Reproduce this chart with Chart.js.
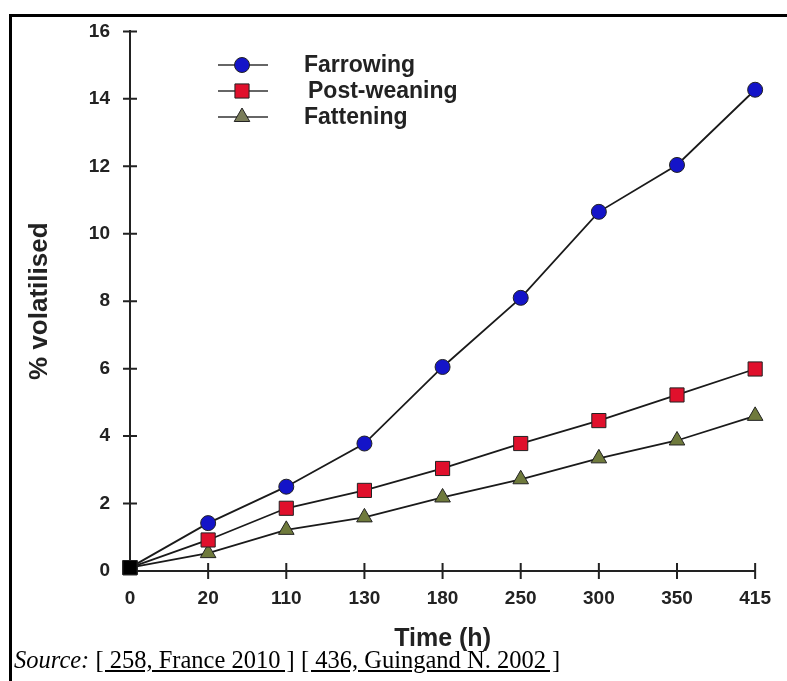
<!DOCTYPE html>
<html>
<head>
<meta charset="utf-8">
<script src="https://cdn.jsdelivr.net/npm/chart.js@4.4.1/dist/chart.umd.min.js"></script>
<style>
	body { margin: 0; background: #fff; width: 787px; height: 681px; overflow: hidden; position: relative; }
	#frame { position: absolute; left: 9px; top: 14px; width: 778px; height: 667px; border-top: 3px solid #000; border-left: 3px solid #000; }
	#myChart { position: absolute; left: 0; top: 0; }
	#source { position: absolute; left: 14px; top: 646px; font: 24.5px "Liberation Serif", "Times New Roman", serif; color: #000; white-space: nowrap; }
	#source .ref { text-decoration: underline; }
</style>
</head>
<body>
<div id="frame"></div>
<canvas id="myChart" width="787" height="681"></canvas>
<div id="source"><i>Source:</i> <span class="ref">[ 258, France 2010 ]</span> <span class="ref">[ 436, Guingand N. 2002 ]</span></div>
<script>
const timeLabels = ['0', '20', '110', '130', '180', '250', '300', '350', '415'];
const farrowing = [0.1, 1.42, 2.5, 3.78, 6.05, 8.1, 10.65, 12.04, 14.27];
const postWeaning = [0.1, 0.92, 1.86, 2.39, 3.04, 3.78, 4.46, 5.22, 5.99];
const fattening = [0.1, 0.53, 1.22, 1.59, 2.18, 2.72, 3.34, 3.87, 4.6];
const seriesNames = ['Farrowing', 'Post-weaning', 'Fattening'];

Chart.defaults.font.family = '"Liberation Sans", Arial, sans-serif';
Chart.defaults.color = '#222';

function makeSeries(label, data, style, fill, radius) {
	return {
		label: label,
		data: data,
		borderColor: '#1a1a1a',
		borderWidth: 1.8,
		pointStyle: c => (c.dataIndex === 0 ? 'rect' : style),
		pointRadius: c => (c.dataIndex === 0 ? 10 : radius),
		pointBackgroundColor: c => (c.dataIndex === 0 ? '#000' : fill),
		pointBorderColor: '#222',
		pointBorderWidth: 1,
		clip: false,
	};
}

// tick marks that cross the axis lines
const crossTicks = {
	id: 'crossTicks',
	beforeDatasetsDraw(chart) {
		const ctx = chart.ctx;
		const x = chart.scales.x;
		const y = chart.scales.y;
		ctx.save();
		ctx.strokeStyle = '#222';
		ctx.lineWidth = 2;
		ctx.beginPath();
		y.ticks.forEach((t, i) => {
			const py = y.getPixelForTick(i);
			ctx.moveTo(x.left - 7, py);
			ctx.lineTo(x.left + 7, py);
		});
		x.ticks.forEach((t, i) => {
			if (i === 0) return;
			const px = x.getPixelForTick(i);
			ctx.moveTo(px, y.bottom - 8);
			ctx.lineTo(px, y.bottom + 8);
		});
		ctx.stroke();
		ctx.restore();
	},
};

// legend with a line through each marker
const lineLegend = {
	id: 'lineLegend',
	afterDatasetsDraw(chart) {
		const ctx = chart.ctx;
		ctx.save();
		chart.data.datasets.forEach((ds, i) => {
			const rowY = 65 + i * 26;
			ctx.strokeStyle = '#333';
			ctx.lineWidth = 1.5;
			ctx.beginPath();
			ctx.moveTo(218, rowY);
			ctx.lineTo(268, rowY);
			ctx.stroke();
			ctx.fillStyle = ds.legendFill;
			ctx.strokeStyle = '#222';
			ctx.lineWidth = 1;
			Chart.helpers.drawPoint(ctx, { pointStyle: ds.legendStyle, radius: ds.legendRadius, rotation: 0, borderWidth: 1 }, 242, rowY);
			ctx.fillStyle = '#222';
			ctx.font = 'bold 23px "Liberation Sans", Arial, sans-serif';
			ctx.textBaseline = 'alphabetic';
			ctx.textAlign = 'left';
			ctx.fillText(ds.label, i === 1 ? 308 : 304, rowY + 7);
		});
		ctx.restore();
	},
};

const datasets = [
	makeSeries(seriesNames[0], farrowing, 'circle', '#1414c8', 7.5),
	makeSeries(seriesNames[1], postWeaning, 'rect', '#e0102c', 10),
	makeSeries(seriesNames[2], fattening, 'triangle', '#6f7a3c', 9),
];
datasets[0].legendStyle = 'circle'; datasets[0].legendFill = '#1414c8'; datasets[0].legendRadius = 7.5;
datasets[1].legendStyle = 'rect'; datasets[1].legendFill = '#e0102c'; datasets[1].legendRadius = 10;
datasets[2].legendStyle = 'triangle'; datasets[2].legendFill = '#7a7d5a'; datasets[2].legendRadius = 9;

const chart = new Chart(document.getElementById('myChart'), {
	type: 'line',
	data: { labels: timeLabels, datasets: datasets },
	options: {
		responsive: false,
		animation: false,
		layout: { padding: { left: 0, right: 27, top: 29, bottom: 0 } },
		plugins: { legend: { display: false }, tooltip: { enabled: false } },
		elements: { line: { tension: 0 } },
		scales: {
			x: {
				offset: false,
				grid: { display: false, drawTicks: false },
				border: { display: true, color: '#222', width: 2 },
				ticks: { padding: 16, font: { size: 19, weight: 'bold' }, color: '#222', maxRotation: 0 },
				title: { display: true, text: 'Time (h)', font: { size: 25, weight: 'bold' }, color: '#222', padding: { top: 0, bottom: 27 } },
				afterFit: s => { s.height = 110; },
			},
			y: {
				min: 0,
				max: 16,
				grid: { display: false, drawTicks: false },
				border: { display: true, color: '#222', width: 2 },
				ticks: { stepSize: 2, padding: 20, font: { size: 19, weight: 'bold' }, color: '#222' },
				title: { display: true, text: '% volatilised', font: { size: 26, weight: 'bold' }, color: '#222', padding: { top: 24, bottom: 0 } },
				afterFit: s => { s.width = 130; },
			},
		},
	},
	plugins: [crossTicks, lineLegend],
});
</script>
</body>
</html>
